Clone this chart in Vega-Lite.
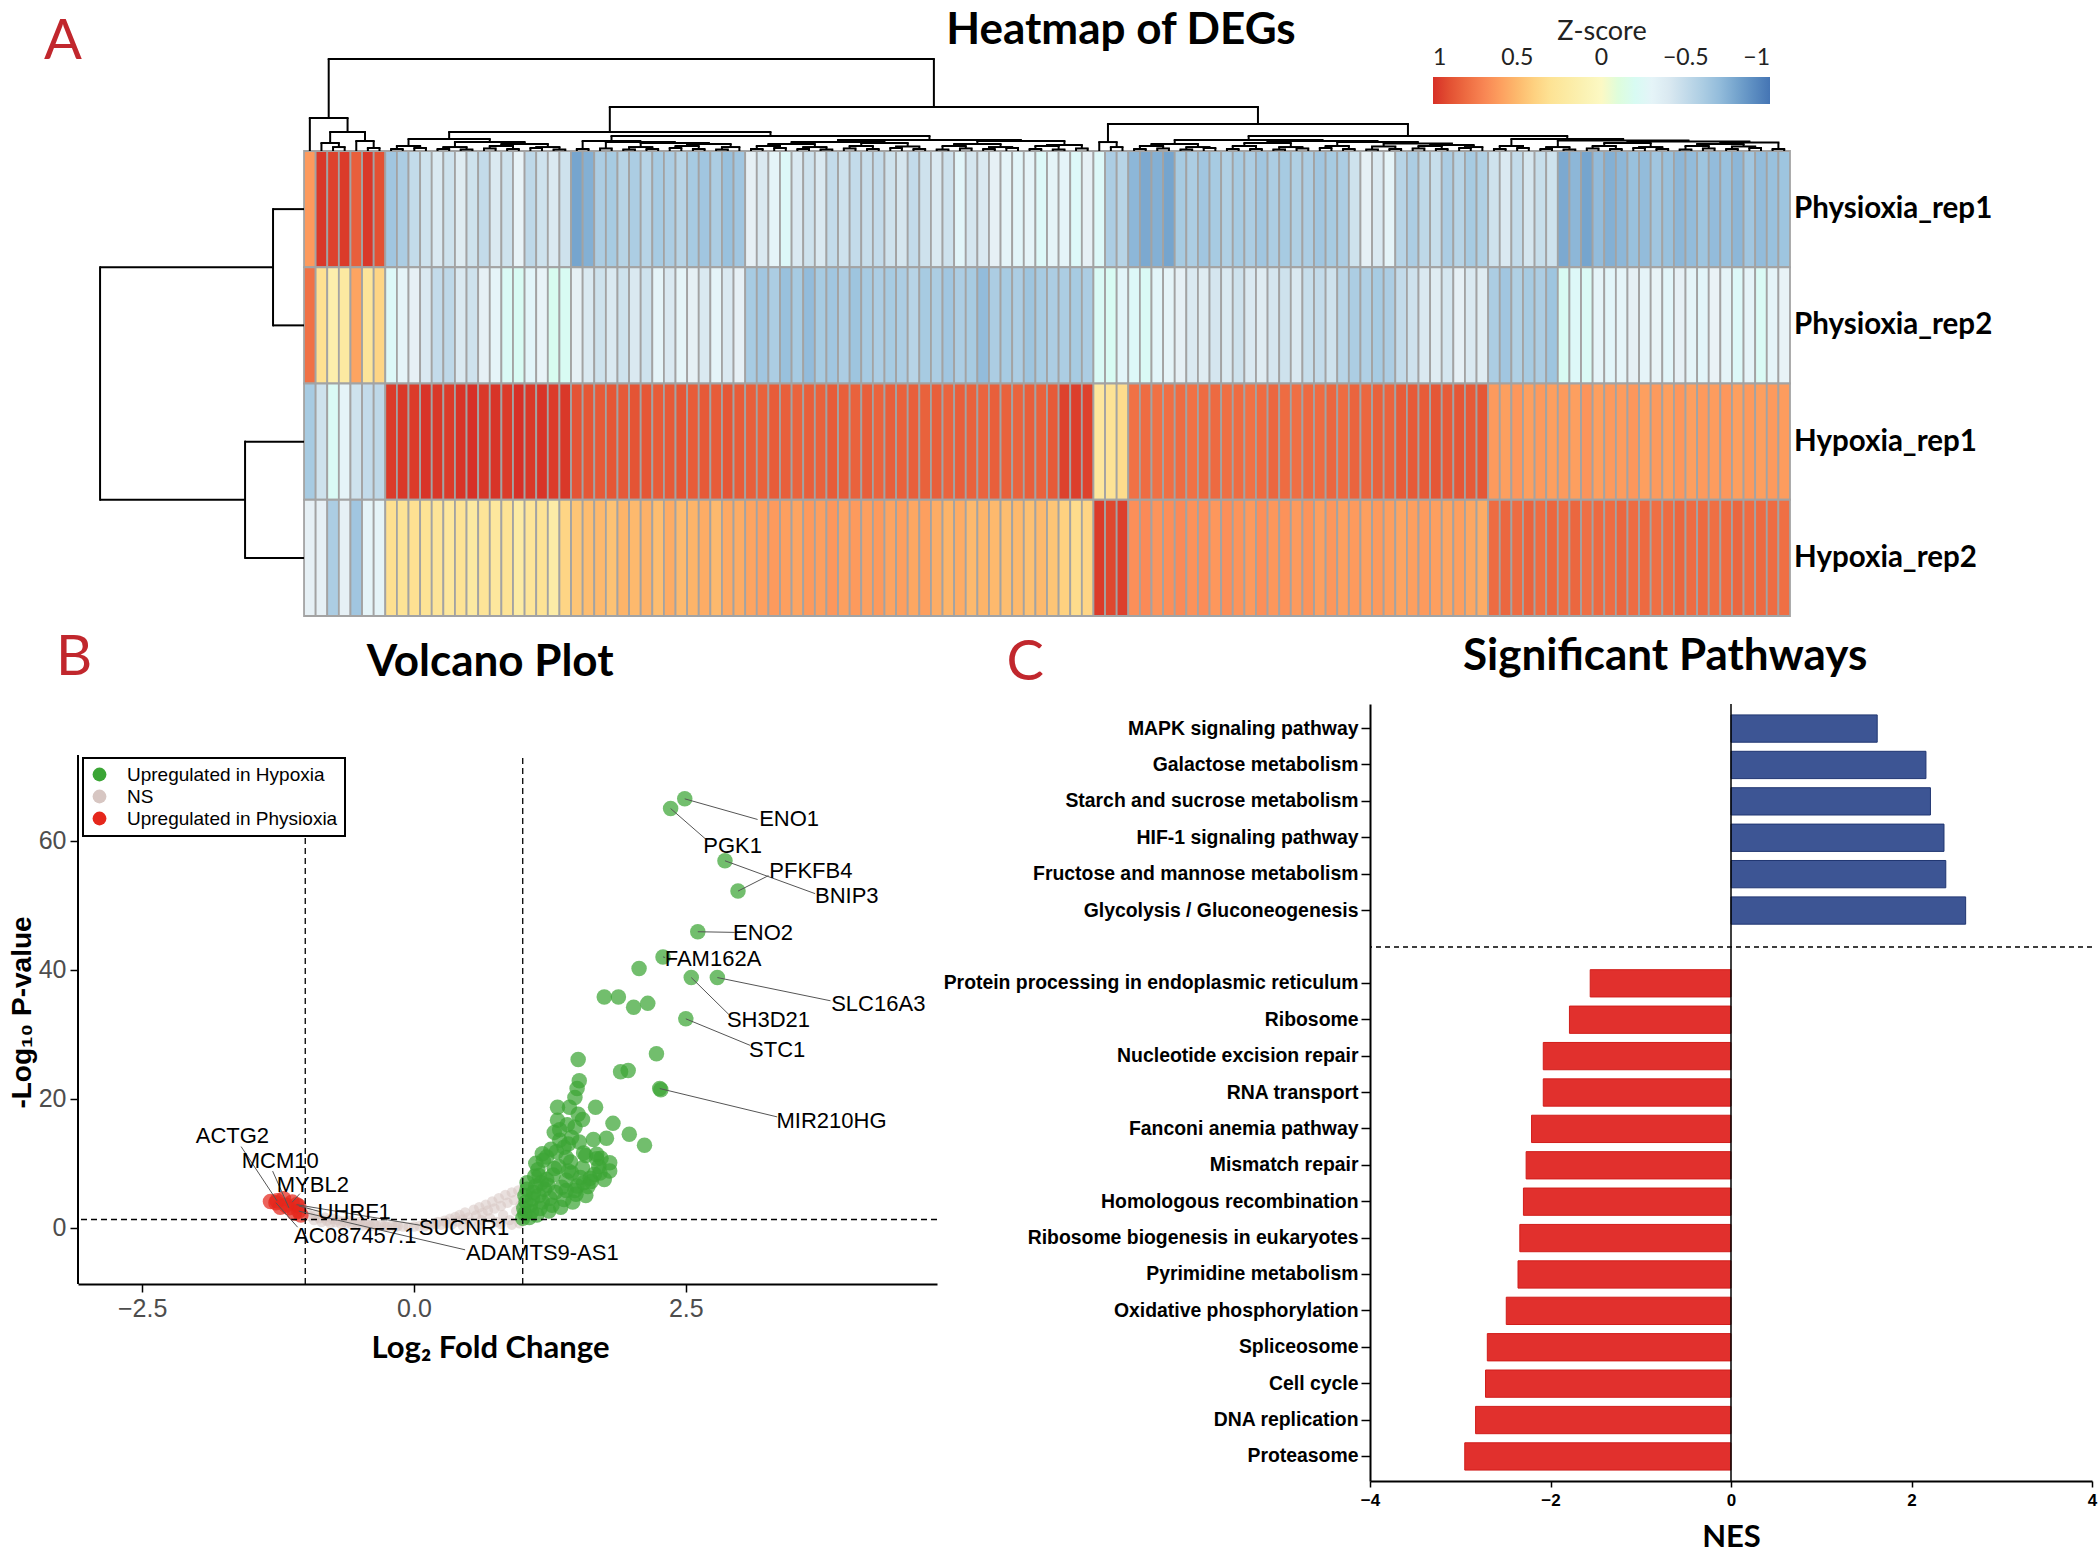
{
"$schema": "https://vega.github.io/schema/vega-lite/v6.json",
"background": "white",
"padding": {"left": 8, "top": 9, "right": 3, "bottom": 0},
"spacing": 12,
"resolve": {"scale": {"color": "independent", "fill": "independent", "stroke": "independent"}, "legend": {"color": "independent", "fill": "independent", "stroke": "independent"}},
"config": {"view": {"stroke": null}, "axis": {"grid": false}, "legend": {"strokeWidth": 2, "symbolSize": 190}},
"datasets": {
"samples": [
{"key":"p1","sample":"Physioxia_rep1","ri":4},
{"key":"p2","sample":"Physioxia_rep2","ri":3},
{"key":"h1","sample":"Hypoxia_rep1","ri":2},
{"key":"h2","sample":"Hypoxia_rep2","ri":1}
],
"heat": [
{"c":1,"p1":0.62,"p2":0.78,"h1":-0.62,"h2":-0.35},
{"c":2,"p1":0.98,"p2":0.32,"h1":-0.45,"h2":-0.35},
{"c":3,"p1":0.95,"p2":0.15,"h1":-0.22,"h2":-0.6},
{"c":4,"p1":0.97,"p2":0.22,"h1":-0.3,"h2":-0.35},
{"c":5,"p1":0.85,"p2":0.58,"h1":-0.45,"h2":-0.65},
{"c":6,"p1":0.98,"p2":0.27,"h1":-0.5,"h2":-0.3},
{"c":7,"p1":0.9,"p2":0.38,"h1":-0.52,"h2":-0.3},
{"c":8,"p1":-0.65,"p2":-0.25,"h1":0.97,"h2":0.33},
{"c":9,"p1":-0.6,"p2":-0.3,"h1":0.98,"h2":0.3},
{"c":10,"p1":-0.5,"p2":-0.35,"h1":0.97,"h2":0.32},
{"c":11,"p1":-0.45,"p2":-0.4,"h1":0.99,"h2":0.3},
{"c":12,"p1":-0.4,"p2":-0.5,"h1":0.98,"h2":0.28},
{"c":13,"p1":-0.45,"p2":-0.52,"h1":0.97,"h2":0.25},
{"c":14,"p1":-0.38,"p2":-0.4,"h1":0.99,"h2":0.3},
{"c":15,"p1":-0.45,"p2":-0.45,"h1":1.0,"h2":0.22},
{"c":16,"p1":-0.5,"p2":-0.35,"h1":0.98,"h2":0.28},
{"c":17,"p1":-0.4,"p2":-0.3,"h1":0.99,"h2":0.25},
{"c":18,"p1":-0.45,"p2":-0.22,"h1":0.97,"h2":0.3},
{"c":19,"p1":-0.32,"p2":-0.2,"h1":1.0,"h2":0.2},
{"c":20,"p1":-0.52,"p2":-0.28,"h1":0.98,"h2":0.27},
{"c":21,"p1":-0.45,"p2":-0.32,"h1":0.99,"h2":0.3},
{"c":22,"p1":-0.4,"p2":-0.18,"h1":0.97,"h2":0.18},
{"c":23,"p1":-0.45,"p2":-0.2,"h1":0.98,"h2":0.38},
{"c":24,"p1":-0.8,"p2":-0.35,"h1":0.89,"h2":0.45},
{"c":25,"p1":-0.75,"p2":-0.4,"h1":0.88,"h2":0.48},
{"c":26,"p1":-0.6,"p2":-0.45,"h1":0.87,"h2":0.5},
{"c":27,"p1":-0.62,"p2":-0.4,"h1":0.88,"h2":0.46},
{"c":28,"p1":-0.55,"p2":-0.45,"h1":0.87,"h2":0.52},
{"c":29,"p1":-0.6,"p2":-0.4,"h1":0.89,"h2":0.5},
{"c":30,"p1":-0.55,"p2":-0.45,"h1":0.88,"h2":0.53},
{"c":31,"p1":-0.62,"p2":-0.3,"h1":0.86,"h2":0.48},
{"c":32,"p1":-0.6,"p2":-0.4,"h1":0.87,"h2":0.55},
{"c":33,"p1":-0.55,"p2":-0.3,"h1":0.88,"h2":0.5},
{"c":34,"p1":-0.62,"p2":-0.35,"h1":0.86,"h2":0.52},
{"c":35,"p1":-0.65,"p2":-0.4,"h1":0.87,"h2":0.55},
{"c":36,"p1":-0.6,"p2":-0.3,"h1":0.86,"h2":0.5},
{"c":37,"p1":-0.68,"p2":-0.4,"h1":0.88,"h2":0.56},
{"c":38,"p1":-0.65,"p2":-0.35,"h1":0.86,"h2":0.55},
{"c":39,"p1":-0.35,"p2":-0.62,"h1":0.85,"h2":0.58},
{"c":40,"p1":-0.4,"p2":-0.65,"h1":0.84,"h2":0.6},
{"c":41,"p1":-0.3,"p2":-0.6,"h1":0.86,"h2":0.62},
{"c":42,"p1":-0.25,"p2":-0.68,"h1":0.85,"h2":0.6},
{"c":43,"p1":-0.4,"p2":-0.62,"h1":0.83,"h2":0.58},
{"c":44,"p1":-0.45,"p2":-0.7,"h1":0.85,"h2":0.62},
{"c":45,"p1":-0.4,"p2":-0.62,"h1":0.84,"h2":0.6},
{"c":46,"p1":-0.5,"p2":-0.65,"h1":0.86,"h2":0.63},
{"c":47,"p1":-0.45,"p2":-0.6,"h1":0.85,"h2":0.6},
{"c":48,"p1":-0.5,"p2":-0.66,"h1":0.84,"h2":0.62},
{"c":49,"p1":-0.48,"p2":-0.62,"h1":0.85,"h2":0.6},
{"c":50,"p1":-0.5,"p2":-0.6,"h1":0.83,"h2":0.62},
{"c":51,"p1":-0.45,"p2":-0.62,"h1":0.85,"h2":0.58},
{"c":52,"p1":-0.42,"p2":-0.6,"h1":0.84,"h2":0.6},
{"c":53,"p1":-0.5,"p2":-0.55,"h1":0.85,"h2":0.57},
{"c":54,"p1":-0.45,"p2":-0.62,"h1":0.84,"h2":0.6},
{"c":55,"p1":-0.4,"p2":-0.6,"h1":0.85,"h2":0.55},
{"c":56,"p1":-0.45,"p2":-0.65,"h1":0.83,"h2":0.52},
{"c":57,"p1":-0.28,"p2":-0.6,"h1":0.85,"h2":0.55},
{"c":58,"p1":-0.42,"p2":-0.62,"h1":0.84,"h2":0.5},
{"c":59,"p1":-0.4,"p2":-0.7,"h1":0.83,"h2":0.52},
{"c":60,"p1":-0.35,"p2":-0.6,"h1":0.85,"h2":0.5},
{"c":61,"p1":-0.3,"p2":-0.62,"h1":0.84,"h2":0.48},
{"c":62,"p1":-0.28,"p2":-0.6,"h1":0.83,"h2":0.5},
{"c":63,"p1":-0.3,"p2":-0.66,"h1":0.85,"h2":0.47},
{"c":64,"p1":-0.25,"p2":-0.62,"h1":0.84,"h2":0.5},
{"c":65,"p1":-0.3,"p2":-0.6,"h1":0.87,"h2":0.45},
{"c":66,"p1":-0.3,"p2":-0.6,"h1":0.95,"h2":0.4},
{"c":67,"p1":-0.25,"p2":-0.62,"h1":0.96,"h2":0.35},
{"c":68,"p1":-0.35,"p2":-0.6,"h1":0.95,"h2":0.38},
{"c":69,"p1":-0.25,"p2":-0.22,"h1":0.25,"h2":0.97},
{"c":70,"p1":-0.6,"p2":-0.2,"h1":0.3,"h2":0.93},
{"c":71,"p1":-0.55,"p2":-0.28,"h1":0.35,"h2":0.96},
{"c":72,"p1":-0.72,"p2":-0.25,"h1":0.78,"h2":0.66},
{"c":73,"p1":-0.78,"p2":-0.22,"h1":0.8,"h2":0.68},
{"c":74,"p1":-0.75,"p2":-0.28,"h1":0.78,"h2":0.64},
{"c":75,"p1":-0.8,"p2":-0.3,"h1":0.79,"h2":0.66},
{"c":76,"p1":-0.62,"p2":-0.35,"h1":0.8,"h2":0.68},
{"c":77,"p1":-0.6,"p2":-0.4,"h1":0.78,"h2":0.65},
{"c":78,"p1":-0.65,"p2":-0.38,"h1":0.8,"h2":0.67},
{"c":79,"p1":-0.62,"p2":-0.42,"h1":0.81,"h2":0.63},
{"c":80,"p1":-0.58,"p2":-0.4,"h1":0.79,"h2":0.66},
{"c":81,"p1":-0.62,"p2":-0.45,"h1":0.8,"h2":0.64},
{"c":82,"p1":-0.6,"p2":-0.4,"h1":0.78,"h2":0.62},
{"c":83,"p1":-0.65,"p2":-0.38,"h1":0.8,"h2":0.66},
{"c":84,"p1":-0.6,"p2":-0.42,"h1":0.82,"h2":0.63},
{"c":85,"p1":-0.62,"p2":-0.45,"h1":0.8,"h2":0.65},
{"c":86,"p1":-0.58,"p2":-0.4,"h1":0.79,"h2":0.62},
{"c":87,"p1":-0.6,"p2":-0.48,"h1":0.81,"h2":0.64},
{"c":88,"p1":-0.65,"p2":-0.5,"h1":0.8,"h2":0.6},
{"c":89,"p1":-0.62,"p2":-0.45,"h1":0.82,"h2":0.63},
{"c":90,"p1":-0.6,"p2":-0.55,"h1":0.8,"h2":0.6},
{"c":91,"p1":-0.45,"p2":-0.6,"h1":0.83,"h2":0.62},
{"c":92,"p1":-0.35,"p2":-0.58,"h1":0.82,"h2":0.6},
{"c":93,"p1":-0.4,"p2":-0.62,"h1":0.84,"h2":0.62},
{"c":94,"p1":-0.3,"p2":-0.6,"h1":0.83,"h2":0.6},
{"c":95,"p1":-0.55,"p2":-0.5,"h1":0.86,"h2":0.58},
{"c":96,"p1":-0.6,"p2":-0.45,"h1":0.87,"h2":0.6},
{"c":97,"p1":-0.52,"p2":-0.4,"h1":0.86,"h2":0.62},
{"c":98,"p1":-0.48,"p2":-0.38,"h1":0.88,"h2":0.6},
{"c":99,"p1":-0.6,"p2":-0.42,"h1":0.86,"h2":0.58},
{"c":100,"p1":-0.55,"p2":-0.35,"h1":0.88,"h2":0.6},
{"c":101,"p1":-0.62,"p2":-0.4,"h1":0.87,"h2":0.57},
{"c":102,"p1":-0.58,"p2":-0.38,"h1":0.88,"h2":0.55},
{"c":103,"p1":-0.45,"p2":-0.6,"h1":0.62,"h2":0.8},
{"c":104,"p1":-0.4,"p2":-0.65,"h1":0.6,"h2":0.82},
{"c":105,"p1":-0.5,"p2":-0.58,"h1":0.63,"h2":0.8},
{"c":106,"p1":-0.42,"p2":-0.62,"h1":0.6,"h2":0.83},
{"c":107,"p1":-0.48,"p2":-0.6,"h1":0.62,"h2":0.8},
{"c":108,"p1":-0.45,"p2":-0.66,"h1":0.6,"h2":0.82},
{"c":109,"p1":-0.78,"p2":-0.2,"h1":0.62,"h2":0.8},
{"c":110,"p1":-0.72,"p2":-0.25,"h1":0.6,"h2":0.82},
{"c":111,"p1":-0.8,"p2":-0.22,"h1":0.64,"h2":0.79},
{"c":112,"p1":-0.7,"p2":-0.3,"h1":0.6,"h2":0.81},
{"c":113,"p1":-0.75,"p2":-0.28,"h1":0.62,"h2":0.8},
{"c":114,"p1":-0.72,"p2":-0.3,"h1":0.61,"h2":0.82},
{"c":115,"p1":-0.68,"p2":-0.35,"h1":0.63,"h2":0.8},
{"c":116,"p1":-0.7,"p2":-0.3,"h1":0.6,"h2":0.81},
{"c":117,"p1":-0.65,"p2":-0.32,"h1":0.62,"h2":0.79},
{"c":118,"p1":-0.68,"p2":-0.28,"h1":0.6,"h2":0.8},
{"c":119,"p1":-0.72,"p2":-0.35,"h1":0.63,"h2":0.82},
{"c":120,"p1":-0.7,"p2":-0.3,"h1":0.6,"h2":0.8},
{"c":121,"p1":-0.66,"p2":-0.28,"h1":0.62,"h2":0.81},
{"c":122,"p1":-0.7,"p2":-0.33,"h1":0.61,"h2":0.79},
{"c":123,"p1":-0.68,"p2":-0.3,"h1":0.63,"h2":0.8},
{"c":124,"p1":-0.72,"p2":-0.25,"h1":0.6,"h2":0.82},
{"c":125,"p1":-0.65,"p2":-0.3,"h1":0.62,"h2":0.8},
{"c":126,"p1":-0.7,"p2":-0.22,"h1":0.6,"h2":0.81},
{"c":127,"p1":-0.68,"p2":-0.3,"h1":0.62,"h2":0.8},
{"c":128,"p1":-0.66,"p2":-0.32,"h1":0.61,"h2":0.79}
],
"cden": [
{"a":3,"b":4,"h":4.534,"ha":4.5,"hb":4.5},
{"a":2,"b":3.5,"h":4.569,"ha":4.5,"hb":4.534},
{"a":6,"b":7,"h":4.526,"ha":4.5,"hb":4.5},
{"a":5,"b":6.5,"h":4.586,"ha":4.5,"hb":4.526},
{"a":2.75,"b":5.75,"h":4.663,"ha":4.569,"hb":4.586},
{"a":1,"b":4.25,"h":4.784,"ha":4.5,"hb":4.663},
{"a":8,"b":9,"h":4.517,"ha":4.5,"hb":4.5},
{"a":10,"b":11,"h":4.526,"ha":4.5,"hb":4.5},
{"a":12,"b":13,"h":4.517,"ha":4.5,"hb":4.5},
{"a":14,"b":15,"h":4.513,"ha":4.5,"hb":4.5},
{"a":16,"b":17,"h":4.522,"ha":4.5,"hb":4.5},
{"a":18,"b":19,"h":4.517,"ha":4.5,"hb":4.5},
{"a":20,"b":21,"h":4.526,"ha":4.5,"hb":4.5},
{"a":22,"b":23,"h":4.513,"ha":4.5,"hb":4.5},
{"a":8.5,"b":10.5,"h":4.543,"ha":4.517,"hb":4.526},
{"a":12.5,"b":14.5,"h":4.534,"ha":4.517,"hb":4.513},
{"a":16.5,"b":18.5,"h":4.543,"ha":4.522,"hb":4.517},
{"a":20.5,"b":22.5,"h":4.534,"ha":4.526,"hb":4.513},
{"a":17.5,"b":21.5,"h":4.56,"ha":4.543,"hb":4.534},
{"a":13.5,"b":19.5,"h":4.577,"ha":4.534,"hb":4.56},
{"a":9.5,"b":16.5,"h":4.603,"ha":4.543,"hb":4.577},
{"a":24,"b":25,"h":4.517,"ha":4.5,"hb":4.5},
{"a":26,"b":27,"h":4.522,"ha":4.5,"hb":4.5},
{"a":28,"b":29,"h":4.513,"ha":4.5,"hb":4.5},
{"a":30,"b":31,"h":4.517,"ha":4.5,"hb":4.5},
{"a":32,"b":33,"h":4.526,"ha":4.5,"hb":4.5},
{"a":34,"b":35,"h":4.517,"ha":4.5,"hb":4.5},
{"a":36,"b":37,"h":4.513,"ha":4.5,"hb":4.5},
{"a":28.5,"b":30.5,"h":4.534,"ha":4.513,"hb":4.517},
{"a":32.5,"b":34.5,"h":4.543,"ha":4.526,"hb":4.517},
{"a":36.5,"b":38,"h":4.534,"ha":4.513,"hb":4.5},
{"a":33.5,"b":37.25,"h":4.56,"ha":4.543,"hb":4.534},
{"a":29.5,"b":35.375,"h":4.569,"ha":4.534,"hb":4.56},
{"a":26.5,"b":32.44,"h":4.577,"ha":4.522,"hb":4.569},
{"a":24.5,"b":29.47,"h":4.586,"ha":4.517,"hb":4.577},
{"a":39,"b":40,"h":4.517,"ha":4.5,"hb":4.5},
{"a":41,"b":42,"h":4.526,"ha":4.5,"hb":4.5},
{"a":43,"b":44,"h":4.517,"ha":4.5,"hb":4.5},
{"a":45,"b":46,"h":4.513,"ha":4.5,"hb":4.5},
{"a":47,"b":48,"h":4.522,"ha":4.5,"hb":4.5},
{"a":49,"b":50,"h":4.517,"ha":4.5,"hb":4.5},
{"a":51,"b":52,"h":4.526,"ha":4.5,"hb":4.5},
{"a":53,"b":54,"h":4.517,"ha":4.5,"hb":4.5},
{"a":55,"b":56,"h":4.513,"ha":4.5,"hb":4.5},
{"a":57,"b":58,"h":4.522,"ha":4.5,"hb":4.5},
{"a":59,"b":60,"h":4.517,"ha":4.5,"hb":4.5},
{"a":61,"b":62,"h":4.526,"ha":4.5,"hb":4.5},
{"a":63,"b":64,"h":4.517,"ha":4.5,"hb":4.5},
{"a":65,"b":66,"h":4.513,"ha":4.5,"hb":4.5},
{"a":67,"b":68,"h":4.522,"ha":4.5,"hb":4.5},
{"a":39.5,"b":41.5,"h":4.543,"ha":4.517,"hb":4.526},
{"a":43.5,"b":45.5,"h":4.534,"ha":4.517,"hb":4.513},
{"a":47.5,"b":49.5,"h":4.543,"ha":4.522,"hb":4.517},
{"a":51.5,"b":53.5,"h":4.539,"ha":4.526,"hb":4.517},
{"a":55.5,"b":57.5,"h":4.543,"ha":4.513,"hb":4.522},
{"a":59.5,"b":61.5,"h":4.534,"ha":4.517,"hb":4.526},
{"a":63.5,"b":65.5,"h":4.543,"ha":4.517,"hb":4.513},
{"a":40.5,"b":44.5,"h":4.56,"ha":4.543,"hb":4.534},
{"a":48.5,"b":52.5,"h":4.569,"ha":4.543,"hb":4.539},
{"a":56.5,"b":60.5,"h":4.56,"ha":4.543,"hb":4.534},
{"a":64.5,"b":67.5,"h":4.552,"ha":4.543,"hb":4.522},
{"a":42.5,"b":50.5,"h":4.577,"ha":4.56,"hb":4.569},
{"a":58.5,"b":66,"h":4.586,"ha":4.56,"hb":4.552},
{"a":46.5,"b":62.25,"h":4.595,"ha":4.577,"hb":4.586},
{"a":26.985,"b":54.375,"h":4.629,"ha":4.586,"hb":4.595},
{"a":13,"b":40.68,"h":4.663,"ha":4.603,"hb":4.629},
{"a":70,"b":71,"h":4.534,"ha":4.5,"hb":4.5},
{"a":69,"b":70.5,"h":4.577,"ha":4.5,"hb":4.534},
{"a":72,"b":73,"h":4.517,"ha":4.5,"hb":4.5},
{"a":74,"b":75,"h":4.522,"ha":4.5,"hb":4.5},
{"a":76,"b":77,"h":4.513,"ha":4.5,"hb":4.5},
{"a":78,"b":79,"h":4.526,"ha":4.5,"hb":4.5},
{"a":80,"b":81,"h":4.517,"ha":4.5,"hb":4.5},
{"a":82,"b":83,"h":4.517,"ha":4.5,"hb":4.5},
{"a":84,"b":85,"h":4.513,"ha":4.5,"hb":4.5},
{"a":86,"b":87,"h":4.522,"ha":4.5,"hb":4.5},
{"a":88,"b":89,"h":4.526,"ha":4.5,"hb":4.5},
{"a":90,"b":91,"h":4.517,"ha":4.5,"hb":4.5},
{"a":92,"b":93,"h":4.513,"ha":4.5,"hb":4.5},
{"a":94,"b":95,"h":4.517,"ha":4.5,"hb":4.5},
{"a":96,"b":97,"h":4.522,"ha":4.5,"hb":4.5},
{"a":98,"b":99,"h":4.517,"ha":4.5,"hb":4.5},
{"a":100,"b":101,"h":4.526,"ha":4.5,"hb":4.5},
{"a":72.5,"b":74.5,"h":4.543,"ha":4.517,"hb":4.522},
{"a":76.5,"b":78.5,"h":4.534,"ha":4.513,"hb":4.526},
{"a":80.5,"b":82.5,"h":4.543,"ha":4.517,"hb":4.517},
{"a":84.5,"b":86.5,"h":4.534,"ha":4.513,"hb":4.522},
{"a":88.5,"b":90.5,"h":4.543,"ha":4.526,"hb":4.517},
{"a":92.5,"b":94.5,"h":4.539,"ha":4.513,"hb":4.517},
{"a":96.5,"b":98.5,"h":4.543,"ha":4.522,"hb":4.517},
{"a":100.5,"b":102,"h":4.534,"ha":4.526,"hb":4.5},
{"a":73.5,"b":77.5,"h":4.56,"ha":4.543,"hb":4.534},
{"a":81.5,"b":85.5,"h":4.569,"ha":4.543,"hb":4.534},
{"a":97.5,"b":101.25,"h":4.552,"ha":4.543,"hb":4.534},
{"a":93.5,"b":99.375,"h":4.565,"ha":4.539,"hb":4.552},
{"a":89.5,"b":96.44,"h":4.577,"ha":4.543,"hb":4.565},
{"a":83.5,"b":92.97,"h":4.586,"ha":4.569,"hb":4.577},
{"a":75.5,"b":88.235,"h":4.595,"ha":4.56,"hb":4.586},
{"a":103,"b":104,"h":4.517,"ha":4.5,"hb":4.5},
{"a":105,"b":106,"h":4.526,"ha":4.5,"hb":4.5},
{"a":107,"b":108,"h":4.517,"ha":4.5,"hb":4.5},
{"a":109,"b":110,"h":4.513,"ha":4.5,"hb":4.5},
{"a":111,"b":112,"h":4.522,"ha":4.5,"hb":4.5},
{"a":113,"b":114,"h":4.517,"ha":4.5,"hb":4.5},
{"a":115,"b":116,"h":4.526,"ha":4.5,"hb":4.5},
{"a":117,"b":118,"h":4.517,"ha":4.5,"hb":4.5},
{"a":119,"b":120,"h":4.513,"ha":4.5,"hb":4.5},
{"a":121,"b":122,"h":4.522,"ha":4.5,"hb":4.5},
{"a":123,"b":124,"h":4.517,"ha":4.5,"hb":4.5},
{"a":125,"b":126,"h":4.526,"ha":4.5,"hb":4.5},
{"a":127,"b":128,"h":4.517,"ha":4.5,"hb":4.5},
{"a":103.5,"b":105.5,"h":4.543,"ha":4.517,"hb":4.526},
{"a":107.5,"b":109.5,"h":4.534,"ha":4.517,"hb":4.513},
{"a":111.5,"b":113.5,"h":4.543,"ha":4.522,"hb":4.517},
{"a":115.5,"b":117.5,"h":4.534,"ha":4.526,"hb":4.517},
{"a":119.5,"b":121.5,"h":4.543,"ha":4.513,"hb":4.522},
{"a":123.5,"b":125.5,"h":4.539,"ha":4.517,"hb":4.526},
{"a":112.5,"b":116.5,"h":4.569,"ha":4.543,"hb":4.534},
{"a":120.5,"b":124.5,"h":4.56,"ha":4.543,"hb":4.539},
{"a":122.5,"b":127.5,"h":4.573,"ha":4.56,"hb":4.517},
{"a":114.5,"b":125,"h":4.582,"ha":4.569,"hb":4.573},
{"a":108.5,"b":119.75,"h":4.59,"ha":4.534,"hb":4.582},
{"a":104.5,"b":114.125,"h":4.603,"ha":4.543,"hb":4.59},
{"a":81.87,"b":109.31,"h":4.629,"ha":4.595,"hb":4.603},
{"a":69.75,"b":95.59,"h":4.732,"ha":4.577,"hb":4.629},
{"a":26.84,"b":82.67,"h":4.878,"ha":4.663,"hb":4.732},
{"a":2.625,"b":54.755,"h":5.291,"ha":4.784,"hb":4.878}
],
"rden": [
{"a":4,"b":3,"h":-2.17,"ha":0.5,"hb":0.5},
{"a":2,"b":1,"h":-4.58,"ha":0.5,"hb":0.5},
{"a":3.5,"b":1.5,"h":-17.07,"ha":-2.17,"hb":-4.58}
],
"volcano": [
{"lfc":-0.98,"p":2.4,"grp":"NS"},{"lfc":-0.95,"p":1.8,"grp":"NS"},{"lfc":-0.92,"p":1.2,"grp":"NS"},{"lfc":-0.9,"p":2.0,"grp":"NS"},
{"lfc":-0.87,"p":1.5,"grp":"NS"},{"lfc":-0.85,"p":0.9,"grp":"NS"},{"lfc":-0.82,"p":1.6,"grp":"NS"},{"lfc":-0.8,"p":1.1,"grp":"NS"},
{"lfc":-0.77,"p":0.7,"grp":"NS"},{"lfc":-0.75,"p":1.4,"grp":"NS"},{"lfc":-0.72,"p":0.9,"grp":"NS"},{"lfc":-0.7,"p":1.2,"grp":"NS"},
{"lfc":-0.67,"p":0.6,"grp":"NS"},{"lfc":-0.65,"p":1.0,"grp":"NS"},{"lfc":-0.62,"p":0.8,"grp":"NS"},{"lfc":-0.6,"p":1.1,"grp":"NS"},
{"lfc":-0.57,"p":0.5,"grp":"NS"},{"lfc":-0.55,"p":0.8,"grp":"NS"},{"lfc":-0.52,"p":0.6,"grp":"NS"},{"lfc":-0.5,"p":0.9,"grp":"NS"},
{"lfc":-0.47,"p":0.4,"grp":"NS"},{"lfc":-0.45,"p":0.7,"grp":"NS"},{"lfc":-0.42,"p":0.5,"grp":"NS"},{"lfc":-0.4,"p":0.3,"grp":"NS"},
{"lfc":-0.37,"p":0.6,"grp":"NS"},{"lfc":-0.35,"p":0.4,"grp":"NS"},{"lfc":-0.3,"p":0.5,"grp":"NS"},{"lfc":-0.27,"p":0.3,"grp":"NS"},
{"lfc":-0.25,"p":0.2,"grp":"NS"},{"lfc":-0.2,"p":0.4,"grp":"NS"},{"lfc":-0.17,"p":0.2,"grp":"NS"},{"lfc":-0.15,"p":0.3,"grp":"NS"},
{"lfc":-0.1,"p":0.2,"grp":"NS"},{"lfc":-0.05,"p":0.15,"grp":"NS"},{"lfc":0.0,"p":0.2,"grp":"NS"},{"lfc":0.05,"p":0.3,"grp":"NS"},
{"lfc":0.1,"p":0.25,"grp":"NS"},{"lfc":0.12,"p":0.5,"grp":"NS"},{"lfc":0.15,"p":0.4,"grp":"NS"},{"lfc":0.2,"p":0.6,"grp":"NS"},
{"lfc":0.22,"p":0.9,"grp":"NS"},{"lfc":0.25,"p":0.5,"grp":"NS"},{"lfc":0.28,"p":1.1,"grp":"NS"},{"lfc":0.3,"p":0.8,"grp":"NS"},
{"lfc":0.33,"p":1.4,"grp":"NS"},{"lfc":0.35,"p":0.6,"grp":"NS"},{"lfc":0.38,"p":1.7,"grp":"NS"},{"lfc":0.4,"p":1.0,"grp":"NS"},
{"lfc":0.42,"p":2.0,"grp":"NS"},{"lfc":0.45,"p":1.3,"grp":"NS"},{"lfc":0.47,"p":2.4,"grp":"NS"},{"lfc":0.5,"p":1.6,"grp":"NS"},
{"lfc":0.52,"p":0.8,"grp":"NS"},{"lfc":0.55,"p":2.8,"grp":"NS"},{"lfc":0.57,"p":1.9,"grp":"NS"},{"lfc":0.6,"p":3.2,"grp":"NS"},
{"lfc":0.62,"p":1.2,"grp":"NS"},{"lfc":0.63,"p":2.3,"grp":"NS"},{"lfc":0.66,"p":3.6,"grp":"NS"},{"lfc":0.68,"p":2.7,"grp":"NS"},
{"lfc":0.7,"p":1.5,"grp":"NS"},{"lfc":0.72,"p":4.1,"grp":"NS"},{"lfc":0.74,"p":3.0,"grp":"NS"},{"lfc":0.76,"p":0.9,"grp":"NS"},
{"lfc":0.78,"p":4.6,"grp":"NS"},{"lfc":0.8,"p":3.4,"grp":"NS"},{"lfc":0.82,"p":2.0,"grp":"NS"},{"lfc":0.84,"p":5.1,"grp":"NS"},
{"lfc":0.86,"p":3.9,"grp":"NS"},{"lfc":0.88,"p":1.2,"grp":"NS"},{"lfc":0.9,"p":5.5,"grp":"NS"},{"lfc":0.92,"p":4.3,"grp":"NS"},
{"lfc":0.94,"p":2.6,"grp":"NS"},{"lfc":0.96,"p":5.8,"grp":"NS"},{"lfc":0.98,"p":3.5,"grp":"NS"},{"lfc":0.97,"p":0.7,"grp":"NS"},
{"lfc":0.9,"p":0.5,"grp":"NS"},{"lfc":0.8,"p":0.6,"grp":"NS"},{"lfc":0.6,"p":0.4,"grp":"NS"},{"lfc":0.45,"p":0.35,"grp":"NS"},
{"lfc":2.49,"p":66.5,"grp":"Upregulated in Hypoxia"},{"lfc":2.36,"p":65.0,"grp":"Upregulated in Hypoxia"},
{"lfc":2.86,"p":56.9,"grp":"Upregulated in Hypoxia"},{"lfc":2.98,"p":52.2,"grp":"Upregulated in Hypoxia"},
{"lfc":2.61,"p":45.9,"grp":"Upregulated in Hypoxia"},{"lfc":2.29,"p":42.0,"grp":"Upregulated in Hypoxia"},
{"lfc":2.79,"p":38.8,"grp":"Upregulated in Hypoxia"},{"lfc":2.55,"p":38.8,"grp":"Upregulated in Hypoxia"},
{"lfc":2.5,"p":32.4,"grp":"Upregulated in Hypoxia"},{"lfc":2.26,"p":21.6,"grp":"Upregulated in Hypoxia"},
{"lfc":2.07,"p":40.2,"grp":"Upregulated in Hypoxia"},{"lfc":1.75,"p":35.8,"grp":"Upregulated in Hypoxia"},
{"lfc":1.88,"p":35.8,"grp":"Upregulated in Hypoxia"},{"lfc":2.02,"p":34.2,"grp":"Upregulated in Hypoxia"},
{"lfc":2.15,"p":34.8,"grp":"Upregulated in Hypoxia"},{"lfc":2.23,"p":27.0,"grp":"Upregulated in Hypoxia"},
{"lfc":1.51,"p":26.1,"grp":"Upregulated in Hypoxia"},{"lfc":1.9,"p":24.2,"grp":"Upregulated in Hypoxia"},
{"lfc":1.97,"p":24.4,"grp":"Upregulated in Hypoxia"},{"lfc":1.52,"p":22.8,"grp":"Upregulated in Hypoxia"},
{"lfc":1.5,"p":21.6,"grp":"Upregulated in Hypoxia"},{"lfc":1.48,"p":20.2,"grp":"Upregulated in Hypoxia"},
{"lfc":1.32,"p":18.7,"grp":"Upregulated in Hypoxia"},{"lfc":1.43,"p":18.7,"grp":"Upregulated in Hypoxia"},
{"lfc":1.67,"p":18.7,"grp":"Upregulated in Hypoxia"},{"lfc":1.32,"p":16.7,"grp":"Upregulated in Hypoxia"},
{"lfc":1.51,"p":17.6,"grp":"Upregulated in Hypoxia"},{"lfc":1.83,"p":16.2,"grp":"Upregulated in Hypoxia"},
{"lfc":1.34,"p":15.2,"grp":"Upregulated in Hypoxia"},{"lfc":1.48,"p":15.6,"grp":"Upregulated in Hypoxia"},
{"lfc":1.98,"p":14.5,"grp":"Upregulated in Hypoxia"},{"lfc":2.12,"p":12.8,"grp":"Upregulated in Hypoxia"},
{"lfc":1.77,"p":13.9,"grp":"Upregulated in Hypoxia"},{"lfc":1.65,"p":13.7,"grp":"Upregulated in Hypoxia"},
{"lfc":1.42,"p":13.0,"grp":"Upregulated in Hypoxia"},{"lfc":1.26,"p":12.2,"grp":"Upregulated in Hypoxia"},
{"lfc":1.18,"p":11.5,"grp":"Upregulated in Hypoxia"},{"lfc":1.56,"p":11.6,"grp":"Upregulated in Hypoxia"},
{"lfc":1.8,"p":10.1,"grp":"Upregulated in Hypoxia"},{"lfc":1.68,"p":10.7,"grp":"Upregulated in Hypoxia"},
{"lfc":1.4,"p":10.9,"grp":"Upregulated in Hypoxia"},{"lfc":1.12,"p":10.0,"grp":"Upregulated in Hypoxia"},
{"lfc":1.29,"p":9.2,"grp":"Upregulated in Hypoxia"},{"lfc":1.45,"p":8.5,"grp":"Upregulated in Hypoxia"},
{"lfc":1.62,"p":7.7,"grp":"Upregulated in Hypoxia"},{"lfc":1.71,"p":8.5,"grp":"Upregulated in Hypoxia"},
{"lfc":1.56,"p":7.0,"grp":"Upregulated in Hypoxia"},{"lfc":1.04,"p":7.0,"grp":"Upregulated in Hypoxia"},
{"lfc":1.15,"p":8.1,"grp":"Upregulated in Hypoxia"},{"lfc":1.23,"p":6.6,"grp":"Upregulated in Hypoxia"},
{"lfc":1.4,"p":5.8,"grp":"Upregulated in Hypoxia"},{"lfc":1.48,"p":5.8,"grp":"Upregulated in Hypoxia"},
{"lfc":2.27,"p":21.4,"grp":"Upregulated in Hypoxia"},
{"lfc":1.0,"p":1.5,"grp":"Upregulated in Hypoxia"},{"lfc":1.02,"p":2.2,"grp":"Upregulated in Hypoxia"},
{"lfc":1.01,"p":3.0,"grp":"Upregulated in Hypoxia"},{"lfc":1.03,"p":4.0,"grp":"Upregulated in Hypoxia"},
{"lfc":1.02,"p":5.0,"grp":"Upregulated in Hypoxia"},{"lfc":1.04,"p":6.0,"grp":"Upregulated in Hypoxia"},
{"lfc":1.06,"p":1.6,"grp":"Upregulated in Hypoxia"},{"lfc":1.08,"p":2.5,"grp":"Upregulated in Hypoxia"},
{"lfc":1.07,"p":3.5,"grp":"Upregulated in Hypoxia"},{"lfc":1.09,"p":4.5,"grp":"Upregulated in Hypoxia"},
{"lfc":1.1,"p":5.5,"grp":"Upregulated in Hypoxia"},{"lfc":1.12,"p":6.5,"grp":"Upregulated in Hypoxia"},
{"lfc":1.11,"p":8.0,"grp":"Upregulated in Hypoxia"},{"lfc":1.14,"p":9.0,"grp":"Upregulated in Hypoxia"},
{"lfc":1.13,"p":2.0,"grp":"Upregulated in Hypoxia"},{"lfc":1.16,"p":3.0,"grp":"Upregulated in Hypoxia"},
{"lfc":1.18,"p":4.0,"grp":"Upregulated in Hypoxia"},{"lfc":1.15,"p":5.0,"grp":"Upregulated in Hypoxia"},
{"lfc":1.2,"p":6.0,"grp":"Upregulated in Hypoxia"},{"lfc":1.22,"p":7.5,"grp":"Upregulated in Hypoxia"},
{"lfc":1.19,"p":10.5,"grp":"Upregulated in Hypoxia"},{"lfc":1.24,"p":2.6,"grp":"Upregulated in Hypoxia"},
{"lfc":1.27,"p":3.5,"grp":"Upregulated in Hypoxia"},{"lfc":1.25,"p":4.6,"grp":"Upregulated in Hypoxia"},
{"lfc":1.3,"p":5.5,"grp":"Upregulated in Hypoxia"},{"lfc":1.28,"p":8.2,"grp":"Upregulated in Hypoxia"},
{"lfc":1.33,"p":9.5,"grp":"Upregulated in Hypoxia"},{"lfc":1.31,"p":11.8,"grp":"Upregulated in Hypoxia"},
{"lfc":1.35,"p":3.2,"grp":"Upregulated in Hypoxia"},{"lfc":1.38,"p":4.4,"grp":"Upregulated in Hypoxia"},
{"lfc":1.36,"p":6.3,"grp":"Upregulated in Hypoxia"},{"lfc":1.4,"p":7.4,"grp":"Upregulated in Hypoxia"},
{"lfc":1.42,"p":8.8,"grp":"Upregulated in Hypoxia"},{"lfc":1.44,"p":10.2,"grp":"Upregulated in Hypoxia"},
{"lfc":1.46,"p":4.0,"grp":"Upregulated in Hypoxia"},{"lfc":1.49,"p":5.2,"grp":"Upregulated in Hypoxia"},
{"lfc":1.5,"p":6.5,"grp":"Upregulated in Hypoxia"},{"lfc":1.53,"p":7.8,"grp":"Upregulated in Hypoxia"},
{"lfc":1.55,"p":9.3,"grp":"Upregulated in Hypoxia"},{"lfc":1.58,"p":5.0,"grp":"Upregulated in Hypoxia"},
{"lfc":1.6,"p":6.4,"grp":"Upregulated in Hypoxia"},{"lfc":1.63,"p":7.2,"grp":"Upregulated in Hypoxia"},
{"lfc":1.66,"p":8.3,"grp":"Upregulated in Hypoxia"},{"lfc":1.7,"p":9.5,"grp":"Upregulated in Hypoxia"},
{"lfc":1.72,"p":10.8,"grp":"Upregulated in Hypoxia"},{"lfc":1.38,"p":12.5,"grp":"Upregulated in Hypoxia"},
{"lfc":1.34,"p":13.6,"grp":"Upregulated in Hypoxia"},{"lfc":1.45,"p":14.0,"grp":"Upregulated in Hypoxia"},
{"lfc":1.52,"p":13.3,"grp":"Upregulated in Hypoxia"},{"lfc":1.22,"p":11.0,"grp":"Upregulated in Hypoxia"},
{"lfc":1.17,"p":7.0,"grp":"Upregulated in Hypoxia"},{"lfc":1.58,"p":11.2,"grp":"Upregulated in Hypoxia"},
{"lfc":1.75,"p":7.5,"grp":"Upregulated in Hypoxia"},{"lfc":1.8,"p":8.8,"grp":"Upregulated in Hypoxia"},
{"lfc":1.68,"p":11.4,"grp":"Upregulated in Hypoxia"},{"lfc":1.29,"p":14.8,"grp":"Upregulated in Hypoxia"},
{"lfc":1.41,"p":16.0,"grp":"Upregulated in Hypoxia"},{"lfc":1.55,"p":16.8,"grp":"Upregulated in Hypoxia"},
{"lfc":-1.26,"p":4.2,"grp":"Upregulated in Physioxia"},{"lfc":-1.15,"p":3.1,"grp":"Upregulated in Physioxia"},
{"lfc":-1.12,"p":4.0,"grp":"Upregulated in Physioxia"},{"lfc":-1.06,"p":3.4,"grp":"Upregulated in Physioxia"},
{"lfc":-1.27,"p":3.9,"grp":"Upregulated in Physioxia"},{"lfc":-1.08,"p":3.6,"grp":"Upregulated in Physioxia"},
{"lfc":-1.06,"p":2.6,"grp":"Upregulated in Physioxia"},{"lfc":-1.32,"p":4.1,"grp":"Upregulated in Physioxia"},
{"lfc":-1.2,"p":4.5,"grp":"Upregulated in Physioxia"},{"lfc":-1.04,"p":2.0,"grp":"Upregulated in Physioxia"},
{"lfc":-1.1,"p":2.3,"grp":"Upregulated in Physioxia"},{"lfc":-1.18,"p":3.5,"grp":"Upregulated in Physioxia"},
{"lfc":-1.23,"p":3.2,"grp":"Upregulated in Physioxia"}
],
"vlab": [
{"gene":"ENO1","lfc":2.49,"p":66.5,"lx":3.45,"ly":63.3,"ex":3.16,"ey":63.3},
{"gene":"PGK1","lfc":2.36,"p":65.0,"lx":2.93,"ly":59.2,"ex":2.68,"ey":60.3},
{"gene":"BNIP3","lfc":2.86,"p":56.9,"lx":3.98,"ly":51.5,"ex":3.69,"ey":51.8},
{"gene":"PFKFB4","lfc":2.98,"p":52.2,"lx":3.65,"ly":55.3,"ex":3.26,"ey":54.6},
{"gene":"ENO2","lfc":2.61,"p":45.9,"lx":3.21,"ly":45.7,"ex":2.95,"ey":45.8},
{"gene":"FAM162A","lfc":2.29,"p":42.0,"lx":2.75,"ly":41.7,"ex":2.31,"ey":41.9},
{"gene":"SLC16A3","lfc":2.79,"p":38.8,"lx":4.27,"ly":34.7,"ex":3.83,"ey":35.2},
{"gene":"SH3D21","lfc":2.55,"p":38.8,"lx":3.26,"ly":32.2,"ex":2.9,"ey":33.0},
{"gene":"STC1","lfc":2.5,"p":32.4,"lx":3.34,"ly":27.6,"ex":3.09,"ey":28.3},
{"gene":"MIR210HG","lfc":2.26,"p":21.6,"lx":3.84,"ly":16.6,"ex":3.34,"ey":17.2},
{"gene":"ACTG2","lfc":-1.26,"p":4.2,"lx":-1.67,"ly":14.3,"ex":-1.59,"ey":12.6},
{"gene":"MCM10","lfc":-1.15,"p":3.1,"lx":-1.23,"ly":10.4,"ex":-1.3,"ey":8.8},
{"gene":"MYBL2","lfc":-1.12,"p":4.0,"lx":-0.93,"ly":6.65,"ex":-1.05,"ey":5.3},
{"gene":"UHRF1","lfc":-1.06,"p":3.4,"lx":-0.55,"ly":2.5,"ex":-0.86,"ey":2.5},
{"gene":"AC087457.1","lfc":-1.27,"p":3.9,"lx":-0.54,"ly":-1.2,"ex":-1.07,"ey":0.1},
{"gene":"SUCNR1","lfc":-1.08,"p":3.6,"lx":0.46,"ly":0.0,"ex":0.06,"ey":0.4},
{"gene":"ADAMTS9-AS1","lfc":-1.06,"p":2.6,"lx":1.18,"ly":-3.9,"ex":0.47,"ey":-3.4}
],
"paths": [
{"pathway":"MAPK signaling pathway","nes":1.62,"enriched":"Hypoxia"},
{"pathway":"Galactose metabolism","nes":2.16,"enriched":"Hypoxia"},
{"pathway":"Starch and sucrose metabolism","nes":2.21,"enriched":"Hypoxia"},
{"pathway":"HIF-1 signaling pathway","nes":2.36,"enriched":"Hypoxia"},
{"pathway":"Fructose and mannose metabolism","nes":2.38,"enriched":"Hypoxia"},
{"pathway":"Glycolysis / Gluconeogenesis","nes":2.6,"enriched":"Hypoxia"},
{"pathway":"Protein processing in endoplasmic reticulum","nes":-1.56,"enriched":"Physioxia"},
{"pathway":"Ribosome","nes":-1.79,"enriched":"Physioxia"},
{"pathway":"Nucleotide excision repair","nes":-2.08,"enriched":"Physioxia"},
{"pathway":"RNA transport","nes":-2.08,"enriched":"Physioxia"},
{"pathway":"Fanconi anemia pathway","nes":-2.21,"enriched":"Physioxia"},
{"pathway":"Mismatch repair","nes":-2.27,"enriched":"Physioxia"},
{"pathway":"Homologous recombination","nes":-2.3,"enriched":"Physioxia"},
{"pathway":"Ribosome biogenesis in eukaryotes","nes":-2.34,"enriched":"Physioxia"},
{"pathway":"Pyrimidine metabolism","nes":-2.36,"enriched":"Physioxia"},
{"pathway":"Oxidative phosphorylation","nes":-2.49,"enriched":"Physioxia"},
{"pathway":"Spliceosome","nes":-2.7,"enriched":"Physioxia"},
{"pathway":"Cell cycle","nes":-2.72,"enriched":"Physioxia"},
{"pathway":"DNA replication","nes":-2.83,"enriched":"Physioxia"},
{"pathway":"Proteasome","nes":-2.95,"enriched":"Physioxia"}
]
},
"vconcat": [
{
"width": 1712, "height": 558,
"layer": [
{
"data": {"name": "heat"},
"transform": [
{"fold": ["p1","p2","h1","h2"], "as": ["key","z"]},
{"lookup": "key", "from": {"data": {"name": "samples"}, "key": "key", "fields": ["sample","ri"]}}
],
"mark": {"type": "rect", "width": 11.61, "height": 116.25, "stroke": "#a3a3a3", "strokeWidth": 1.8},
"encoding": {
"x": {"field": "c", "type": "quantitative", "scale": {"domain": [-18.97, 128.5], "nice": false, "zero": false}, "axis": null},
"y": {"field": "ri", "type": "quantitative", "scale": {"domain": [0.5, 5.3], "nice": false, "zero": false}, "axis": null},
"fill": {"field": "z", "type": "quantitative",
"scale": {"domain": [1, 0.6667, 0.3333, 0, -0.3333, -0.6667, -1], "range": ["#d73027","#fc8d59","#fee090","#fcf9c4","#eaf2f6","#9dc4df","#4575b4"]},
"legend": {"orient": "none", "legendX": 1355, "legendY": -39, "direction": "horizontal", "gradientLength": 337, "gradientThickness": 27, "title": "Z-score", "titleFont": "Lato", "titleFontSize": 27, "titleFontWeight": "normal", "titleColor": "#222", "titleAnchor": "middle", "titlePadding": 31, "labelFont": "Lato", "labelFontSize": 23, "labelColor": "#222", "labelOffset": -57, "values": [1, 0.5, 0, -0.5, -1], "format": "~g", "padding": 0, "labelOverlap": false, "gradientStrokeWidth": 0}}
}
},
{
"data": {"name": "cden"},
"mark": {"type": "rule", "color": "black", "strokeWidth": 2, "strokeCap": "square"},
"encoding": {
"x": {"field": "a", "type": "quantitative", "scale": {"domain": [-18.97, 128.5], "nice": false, "zero": false}, "axis": null},
"x2": {"field": "b"},
"y": {"field": "h", "type": "quantitative", "scale": {"domain": [0.5, 5.3], "nice": false, "zero": false}, "axis": null}
}
},
{
"data": {"name": "cden"},
"mark": {"type": "rule", "color": "black", "strokeWidth": 2},
"encoding": {
"x": {"field": "a", "type": "quantitative", "scale": {"domain": [-18.97, 128.5], "nice": false, "zero": false}, "axis": null},
"y": {"field": "ha", "type": "quantitative", "scale": {"domain": [0.5, 5.3], "nice": false, "zero": false}, "axis": null},
"y2": {"field": "h"}
}
},
{
"data": {"name": "cden"},
"mark": {"type": "rule", "color": "black", "strokeWidth": 2},
"encoding": {
"x": {"field": "b", "type": "quantitative", "scale": {"domain": [-18.97, 128.5], "nice": false, "zero": false}, "axis": null},
"y": {"field": "hb", "type": "quantitative", "scale": {"domain": [0.5, 5.3], "nice": false, "zero": false}, "axis": null},
"y2": {"field": "h"}
}
},
{
"data": {"name": "rden"},
"mark": {"type": "rule", "color": "black", "strokeWidth": 2, "strokeCap": "square"},
"encoding": {
"x": {"field": "h", "type": "quantitative", "scale": {"domain": [-18.97, 128.5], "nice": false, "zero": false}, "axis": null},
"y": {"field": "a", "type": "quantitative", "scale": {"domain": [0.5, 5.3], "nice": false, "zero": false}, "axis": null},
"y2": {"field": "b"}
}
},
{
"data": {"name": "rden"},
"mark": {"type": "rule", "color": "black", "strokeWidth": 2},
"encoding": {
"x": {"field": "ha", "type": "quantitative", "scale": {"domain": [-18.97, 128.5], "nice": false, "zero": false}, "axis": null},
"x2": {"field": "h"},
"y": {"field": "a", "type": "quantitative", "scale": {"domain": [0.5, 5.3], "nice": false, "zero": false}, "axis": null}
}
},
{
"data": {"name": "rden"},
"mark": {"type": "rule", "color": "black", "strokeWidth": 2},
"encoding": {
"x": {"field": "hb", "type": "quantitative", "scale": {"domain": [-18.97, 128.5], "nice": false, "zero": false}, "axis": null},
"x2": {"field": "h"},
"y": {"field": "b", "type": "quantitative", "scale": {"domain": [0.5, 5.3], "nice": false, "zero": false}, "axis": null}
}
},
{
"data": {"name": "samples"},
"mark": {"type": "text", "align": "left", "baseline": "middle", "font": "Lato", "fontWeight": "bold", "fontSize": 29.5, "dx": 4, "color": "black"},
"encoding": {
"x": {"datum": 128.5, "type": "quantitative", "scale": {"domain": [-18.97, 128.5], "nice": false, "zero": false}, "axis": null},
"y": {"field": "ri", "type": "quantitative", "scale": {"domain": [0.5, 5.3], "nice": false, "zero": false}, "axis": null},
"text": {"field": "sample"}
}
},
{
"data": {"values": [{"t": "Heatmap of DEGs"}]},
"mark": {"type": "text", "align": "center", "baseline": "middle", "font": "Lato", "fontWeight": "bold", "fontSize": 44, "dy": -27, "color": "black"},
"encoding": {
"x": {"datum": 70.87, "type": "quantitative", "scale": {"domain": [-18.97, 128.5], "nice": false, "zero": false}, "axis": null},
"y": {"datum": 5.3, "type": "quantitative", "scale": {"domain": [0.5, 5.3], "nice": false, "zero": false}, "axis": null},
"text": {"field": "t"}
}
},
{
"data": {"values": [{"t": "A"}]},
"mark": {"type": "text", "align": "center", "baseline": "middle", "font": "Lato", "fontSize": 56, "dx": -15, "dy": -16, "color": "#c1272d"},
"encoding": {
"x": {"datum": -18.97, "type": "quantitative", "scale": {"domain": [-18.97, 128.5], "nice": false, "zero": false}, "axis": null},
"y": {"datum": 5.3, "type": "quantitative", "scale": {"domain": [0.5, 5.3], "nice": false, "zero": false}, "axis": null},
"text": {"field": "t"}
}
}
]
},
{
"hconcat": [
{
"width": 859, "height": 580,
"layer": [
{
"data": {"name": "volcano"},
"transform": [{"filter": "datum.grp === 'NS'"}],
"mark": {"type": "circle", "size": 110, "opacity": 0.55, "color": "#d7c6c2"},
"encoding": {
"x": {"field": "lfc", "type": "quantitative", "scale": {"domain": [-3.09, 4.81], "nice": false, "zero": false},
"axis": {"values": [-2.5, 0, 2.5], "format": ".1f", "labelFlush": false, "domainColor": "black", "domainWidth": 2, "tickColor": "black", "tickWidth": 1.5, "tickSize": 8, "labelFont": "Liberation Sans", "labelFontSize": 25, "labelColor": "#4d4d4d", "labelPadding": 4, "title": "Log₂ Fold Change", "titleFont": "Lato", "titleFontSize": 31, "titleFontWeight": "bold", "titleColor": "black", "titlePadding": 12, "titleX": 412}},
"y": {"field": "p", "type": "quantitative", "scale": {"domain": [-8.7, 81.2], "nice": false, "zero": false},
"axis": {"values": [0, 20, 40, 60], "domain": false, "labelFlush": false, "tickColor": "black", "tickWidth": 1.5, "tickSize": 8, "labelFont": "Liberation Sans", "labelFontSize": 25, "labelColor": "#4d4d4d", "labelPadding": 4, "title": "-Log₁₀ P-value", "titleFont": "Liberation Sans", "titleFontSize": 28, "titleFontWeight": "bold", "titleColor": "black", "titleX": -42, "titleY": 308}}
}
},
{
"data": {"name": "volcano"},
"transform": [{"filter": "datum.grp !== 'NS'"}],
"mark": {"type": "circle", "size": 240, "opacity": 0.72},
"encoding": {
"x": {"field": "lfc", "type": "quantitative", "scale": {"domain": [-3.09, 4.81], "nice": false, "zero": false}},
"y": {"field": "p", "type": "quantitative", "scale": {"domain": [-8.7, 81.2], "nice": false, "zero": false}},
"color": {"field": "grp", "type": "nominal",
"scale": {"domain": ["Upregulated in Hypoxia", "NS", "Upregulated in Physioxia"], "range": ["#3ba535", "#d7c6c2", "#e5271c"]},
"legend": {"title": null, "orient": "none", "legendX": 5, "legendY": 54, "padding": 7, "strokeColor": "black", "fillColor": "white", "symbolType": "circle", "symbolSize": 190, "symbolOpacity": 1, "symbolStrokeWidth": 0, "labelFont": "Liberation Sans", "labelFontSize": 19, "labelColor": "black", "labelLimit": 400, "labelOffset": 18, "rowPadding": 2}}
}
},
{
"data": {"values": [{"t": "axis"}]},
"mark": {"type": "rule", "color": "black", "strokeWidth": 2},
"encoding": {
"x": {"datum": -3.09, "type": "quantitative", "scale": {"domain": [-3.09, 4.81], "nice": false, "zero": false}},
"y": {"datum": -8.7, "type": "quantitative", "scale": {"domain": [-8.7, 81.2], "nice": false, "zero": false}},
"y2": {"datum": 73.3}
}
},
{
"data": {"values": [{"v": -1}, {"v": 1}]},
"mark": {"type": "rule", "color": "black", "strokeWidth": 1.3, "strokeDash": [6, 4]},
"encoding": {
"x": {"field": "v", "type": "quantitative", "scale": {"domain": [-3.09, 4.81], "nice": false, "zero": false}},
"y": {"datum": -8.7, "type": "quantitative", "scale": {"domain": [-8.7, 81.2], "nice": false, "zero": false}},
"y2": {"datum": 73.3}
}
},
{
"data": {"values": [{"v": 1.3}]},
"mark": {"type": "rule", "color": "black", "strokeWidth": 1.3, "strokeDash": [6, 4]},
"encoding": {
"y": {"field": "v", "type": "quantitative", "scale": {"domain": [-8.7, 81.2], "nice": false, "zero": false}}
}
},
{
"data": {"name": "vlab"},
"mark": {"type": "rule", "color": "#555555", "strokeWidth": 1},
"encoding": {
"x": {"field": "lfc", "type": "quantitative", "scale": {"domain": [-3.09, 4.81], "nice": false, "zero": false}},
"y": {"field": "p", "type": "quantitative", "scale": {"domain": [-8.7, 81.2], "nice": false, "zero": false}},
"x2": {"field": "ex"},
"y2": {"field": "ey"}
}
},
{
"data": {"name": "vlab"},
"mark": {"type": "text", "align": "center", "baseline": "middle", "font": "Liberation Sans", "fontSize": 22, "color": "black"},
"encoding": {
"x": {"field": "lx", "type": "quantitative", "scale": {"domain": [-3.09, 4.81], "nice": false, "zero": false}},
"y": {"field": "ly", "type": "quantitative", "scale": {"domain": [-8.7, 81.2], "nice": false, "zero": false}},
"text": {"field": "gene"}
}
},
{
"data": {"values": [{"t": "Volcano Plot"}]},
"mark": {"type": "text", "align": "center", "baseline": "middle", "font": "Lato", "fontWeight": "bold", "fontSize": 44, "dy": -92, "color": "black"},
"encoding": {
"x": {"datum": 0.7, "type": "quantitative", "scale": {"domain": [-3.09, 4.81], "nice": false, "zero": false}},
"y": {"datum": 73.3, "type": "quantitative", "scale": {"domain": [-8.7, 81.2], "nice": false, "zero": false}},
"text": {"field": "t"}
}
},
{
"data": {"values": [{"t": "B"}]},
"mark": {"type": "text", "align": "center", "baseline": "middle", "font": "Lato", "fontSize": 56, "dx": -4, "dy": -97, "color": "#c1272d"},
"encoding": {
"x": {"datum": -3.09, "type": "quantitative", "scale": {"domain": [-3.09, 4.81], "nice": false, "zero": false}},
"y": {"datum": 73.3, "type": "quantitative", "scale": {"domain": [-8.7, 81.2], "nice": false, "zero": false}},
"text": {"field": "t"}
}
}
]
},
{
"width": 722, "height": 777,
"layer": [
{
"data": {"name": "paths"},
"mark": {"type": "bar", "strokeWidth": 1},
"encoding": {
"x": {"field": "nes", "type": "quantitative", "scale": {"domain": [-4, 4], "nice": false},
"axis": {"values": [-4, -2, 0, 2, 4], "format": "d", "labelFlush": false, "domainColor": "black", "domainWidth": 2, "tickColor": "black", "tickWidth": 1.5, "tickSize": 6, "labelFont": "Liberation Sans", "labelFontWeight": "bold", "labelFontSize": 17, "labelColor": "black", "labelPadding": 5, "title": "NES", "titleFont": "Lato", "titleFontSize": 31, "titleFontWeight": "bold", "titleColor": "black", "titlePadding": 14}},
"y": {"field": "pathway", "type": "nominal", "sort": null,
"scale": {"domain": ["MAPK signaling pathway","Galactose metabolism","Starch and sucrose metabolism","HIF-1 signaling pathway","Fructose and mannose metabolism","Glycolysis / Gluconeogenesis"," ","Protein processing in endoplasmic reticulum","Ribosome","Nucleotide excision repair","RNA transport","Fanconi anemia pathway","Mismatch repair","Homologous recombination","Ribosome biogenesis in eukaryotes","Pyrimidine metabolism","Oxidative phosphorylation","Spliceosome","Cell cycle","DNA replication","Proteasome"], "paddingInner": 0.25, "paddingOuter": 0.3},
"axis": {"values": ["MAPK signaling pathway","Galactose metabolism","Starch and sucrose metabolism","HIF-1 signaling pathway","Fructose and mannose metabolism","Glycolysis / Gluconeogenesis","Protein processing in endoplasmic reticulum","Ribosome","Nucleotide excision repair","RNA transport","Fanconi anemia pathway","Mismatch repair","Homologous recombination","Ribosome biogenesis in eukaryotes","Pyrimidine metabolism","Oxidative phosphorylation","Spliceosome","Cell cycle","DNA replication","Proteasome"], "title": null, "domainColor": "black", "domainWidth": 2, "tickColor": "black", "tickWidth": 1.5, "tickSize": 9, "labelFont": "Liberation Sans", "labelFontWeight": "bold", "labelFontSize": 19.4, "labelColor": "black", "labelPadding": 3, "labelLimit": 600}},
"fill": {"field": "enriched", "type": "nominal", "scale": {"domain": ["Hypoxia", "Physioxia"], "range": ["#3d5594", "#e1302d"]}, "legend": null},
"stroke": {"field": "enriched", "type": "nominal", "scale": {"domain": ["Hypoxia", "Physioxia"], "range": ["#203672", "#d11d1a"]}, "legend": null}
}
},
{
"data": {"values": [{"t": "zero"}]},
"mark": {"type": "rule", "color": "black", "strokeWidth": 1.5},
"encoding": {
"x": {"datum": 0, "type": "quantitative", "scale": {"domain": [-4, 4], "nice": false}}
}
},
{
"data": {"values": [{"t": "split"}]},
"mark": {"type": "rule", "color": "black", "strokeWidth": 1.5, "strokeDash": [5, 4]},
"encoding": {
"y": {"datum": " ", "type": "nominal", "bandPosition": 0.5}
}
},
{
"data": {"values": [{"t": "Significant Pathways"}]},
"mark": {"type": "text", "align": "center", "baseline": "middle", "font": "Lato", "fontWeight": "bold", "fontSize": 44, "dy": -72, "color": "black"},
"encoding": {
"x": {"datum": -0.73, "type": "quantitative", "scale": {"domain": [-4, 4], "nice": false}},
"y": {"datum": "MAPK signaling pathway", "type": "nominal", "bandPosition": 0.5},
"text": {"field": "t"}
}
},
{
"data": {"values": [{"t": "C"}]},
"mark": {"type": "text", "align": "center", "baseline": "middle", "font": "Lato", "fontSize": 56, "dy": -66, "color": "#c1272d"},
"encoding": {
"x": {"datum": -7.82, "type": "quantitative", "scale": {"domain": [-4, 4], "nice": false}},
"y": {"datum": "MAPK signaling pathway", "type": "nominal", "bandPosition": 0.5},
"text": {"field": "t"}
}
}
]
}
],
"spacing": 5,
"resolve": {"scale": {"color": "independent", "fill": "independent", "stroke": "independent"}, "legend": {"color": "independent", "fill": "independent", "stroke": "independent"}}
}
]
}
